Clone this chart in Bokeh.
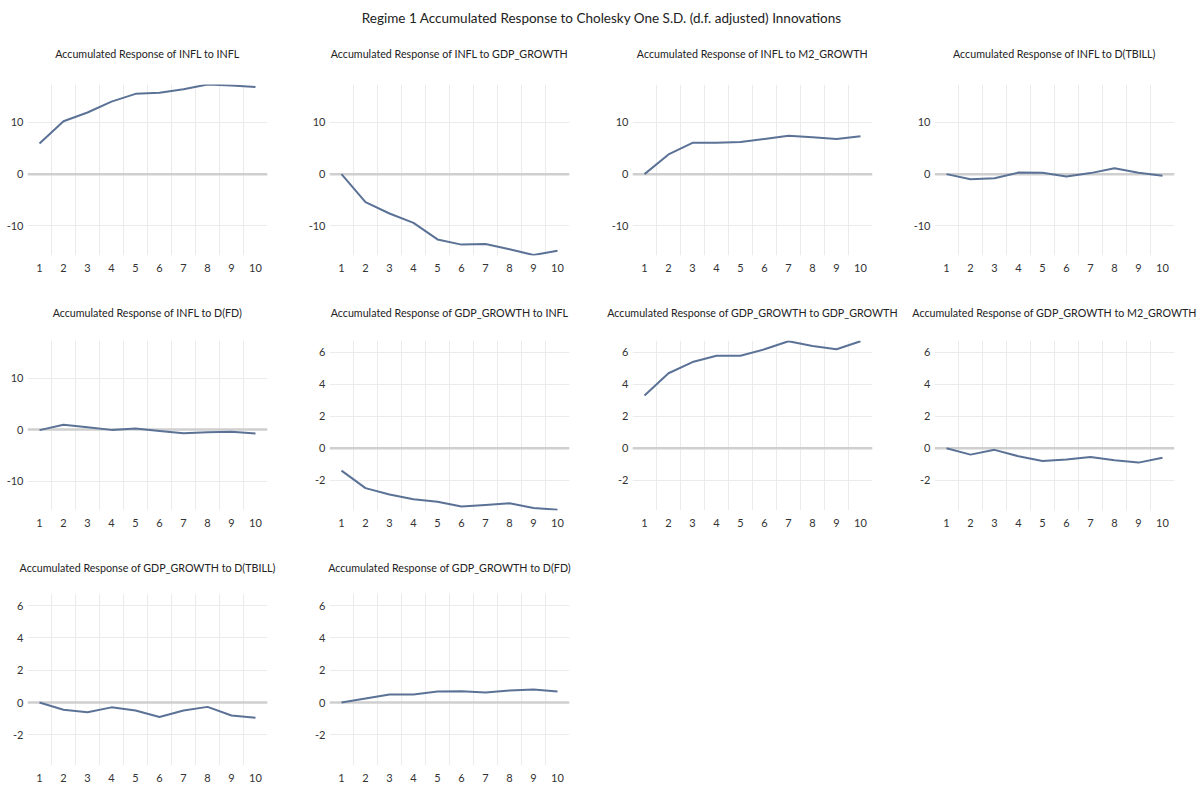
from bokeh.plotting import figure
from bokeh.layouts import column, row
from bokeh.models import Div, FixedTicker, Span, Range1d, PrintfTickFormatter, LinearAxis
from bokeh.embed import file_html
from bokeh.resources import INLINE

# ---------------- data ----------------
periods = [1, 2, 3, 4, 5, 6, 7, 8, 9, 10]

infl_to_infl = [5.9, 10.2, 11.9, 14.0, 15.5, 15.7, 16.4, 17.3, 17.1, 16.8]
infl_to_gdp = [0.0, -5.4, -7.6, -9.4, -12.6, -13.6, -13.5, -14.5, -15.6, -14.8]
infl_to_m2 = [0.0, 3.8, 6.05, 6.05, 6.2, 6.8, 7.4, 7.1, 6.8, 7.3]
infl_to_tbill = [0.0, -1.0, -0.8, 0.3, 0.25, -0.45, 0.2, 1.15, 0.25, -0.3]
infl_to_fd = [-0.1, 0.95, 0.45, -0.05, 0.2, -0.25, -0.7, -0.5, -0.4, -0.75]
gdp_to_infl = [-1.4, -2.5, -2.9, -3.2, -3.35, -3.65, -3.55, -3.45, -3.75, -3.85]
gdp_to_gdp = [3.3, 4.7, 5.4, 5.8, 5.8, 6.2, 6.7, 6.4, 6.2, 6.7]
gdp_to_m2 = [0.0, -0.4, -0.1, -0.5, -0.8, -0.7, -0.55, -0.75, -0.9, -0.6]
gdp_to_tbill = [0.0, -0.45, -0.6, -0.3, -0.5, -0.9, -0.5, -0.27, -0.8, -0.95]
gdp_to_fd = [0.0, 0.25, 0.5, 0.5, 0.68, 0.7, 0.62, 0.75, 0.8, 0.68]

main_title = "Regime 1 Accumulated Response to Cholesky One S.D. (d.f. adjusted) Innovations"
panel_titles = [
    "Accumulated Response of INFL to INFL",
    "Accumulated Response of INFL to GDP_GROWTH",
    "Accumulated Response of INFL to M2_GROWTH",
    "Accumulated Response of INFL to D(TBILL)",
    "Accumulated Response of INFL to D(FD)",
    "Accumulated Response of GDP_GROWTH to INFL",
    "Accumulated Response of GDP_GROWTH to GDP_GROWTH",
    "Accumulated Response of GDP_GROWTH to M2_GROWTH",
    "Accumulated Response of GDP_GROWTH to D(TBILL)",
    "Accumulated Response of GDP_GROWTH to D(FD)",
]
infl_ticks = [-10, 0, 10]
gdp_ticks = [-2, 0, 2, 4, 6]
infl_range = (-15.7, 17.3)
gdp_range = (-3.9, 6.75)

# ---------------- styling ----------------
FONT = "Lato"
LINE_COLOR = "#5b7296"
GRID_COLOR = "#ebebeb"
ZERO_COLOR = "#cfcfcf"
FRAME_W = 240

col_widths = [298, 302, 303, 300]
col_left = [27, 31, 32, 31]
row_geom = [  # (top border, frame height, bottom border, extra gap under title)
    (54, 171, 33, 20),
    (52, 170, 33, 17),
    (50, 172, 21, 15),
]
title_dx = [0, 0, -1, -3]


def make_panel(title, ys, yrange, yticks, c, r):
    w = col_widths[c]
    left = col_left[c]
    top, fh, bottom, gap = row_geom[r]
    p = figure(width=w, height=top + fh + bottom,
               x_range=Range1d(0.5, 10.5), y_range=Range1d(*yrange),
               output_backend="svg", toolbar_location=None,
               min_border_left=left, min_border_right=w - left - FRAME_W,
               min_border_top=top, min_border_bottom=bottom,
               outline_line_color=None, background_fill_color="white",
               border_fill_color="white")

    xax = p.below[0]
    yax = p.left[0]
    xax.ticker = FixedTicker(ticks=periods)
    yax.ticker = FixedTicker(ticks=yticks)
    yax.formatter = PrintfTickFormatter(format="%d")
    for ax in (xax, yax):
        ax.axis_line_color = None
        ax.major_tick_line_color = None
        ax.minor_tick_line_color = None
        ax.major_tick_out = 0
        ax.major_tick_in = 0
        ax.minor_tick_out = 0
        ax.major_label_text_font = FONT
        ax.major_label_text_font_size = "11px"
        ax.major_label_text_color = "#333333"
    xax.major_label_standoff = 8
    yax.major_label_standoff = 4

    # white (invisible) spacer between the frame and the title: one unlabeled tick
    spacer = LinearAxis(ticker=FixedTicker(ticks=[5.5]), axis_line_color=None,
                        major_tick_line_color="white", minor_tick_line_color=None,
                        major_tick_out=gap, major_tick_in=0, minor_tick_out=0,
                        major_label_standoff=0, major_label_overrides={5.5: ""})
    p.add_layout(spacer, "above")

    p.title.text = title
    p.title.align = "center"
    p.title.offset = title_dx[c]
    p.title.text_font = FONT
    p.title.text_font_size = "10.7px"
    p.title.text_font_style = "normal"
    p.title.text_color = "#222222"

    p.xgrid.ticker = FixedTicker(ticks=[i + 0.5 for i in periods[:-1]])
    p.xgrid.grid_line_color = GRID_COLOR
    p.ygrid.grid_line_color = GRID_COLOR

    zero = Span(location=0, dimension="width", line_color=ZERO_COLOR,
                line_width=2.5, level="underlay")
    p.add_layout(zero)

    p.line(periods, ys, line_color=LINE_COLOR, line_width=2)
    return p


series = [infl_to_infl, infl_to_gdp, infl_to_m2, infl_to_tbill, infl_to_fd,
          gdp_to_infl, gdp_to_gdp, gdp_to_m2, gdp_to_tbill, gdp_to_fd]

panels = []
for i, (t, ys) in enumerate(zip(panel_titles, series)):
    r, c = divmod(i, 4)
    is_infl = i < 5
    yr = infl_range if is_infl else gdp_range
    yt = infl_ticks if is_infl else gdp_ticks
    panels.append(make_panel(t, ys, yr, yt, c, r))

header = Div(
    text=('<div style="width:1203px;text-align:center;font-family:Lato;padding-top:8px;'
          'font-size:13.5px;line-height:20px;color:#222222;">' + main_title + '</div>'),
    width=1203, height=30, margin=(0, 0, 0, 0))

layout = column(header,
                row(panels[0], panels[1], panels[2], panels[3]),
                row(panels[4], panels[5], panels[6], panels[7]),
                row(panels[8], panels[9]))

open("out.html", "w").write(file_html(layout, INLINE, title="Accumulated Response"))
